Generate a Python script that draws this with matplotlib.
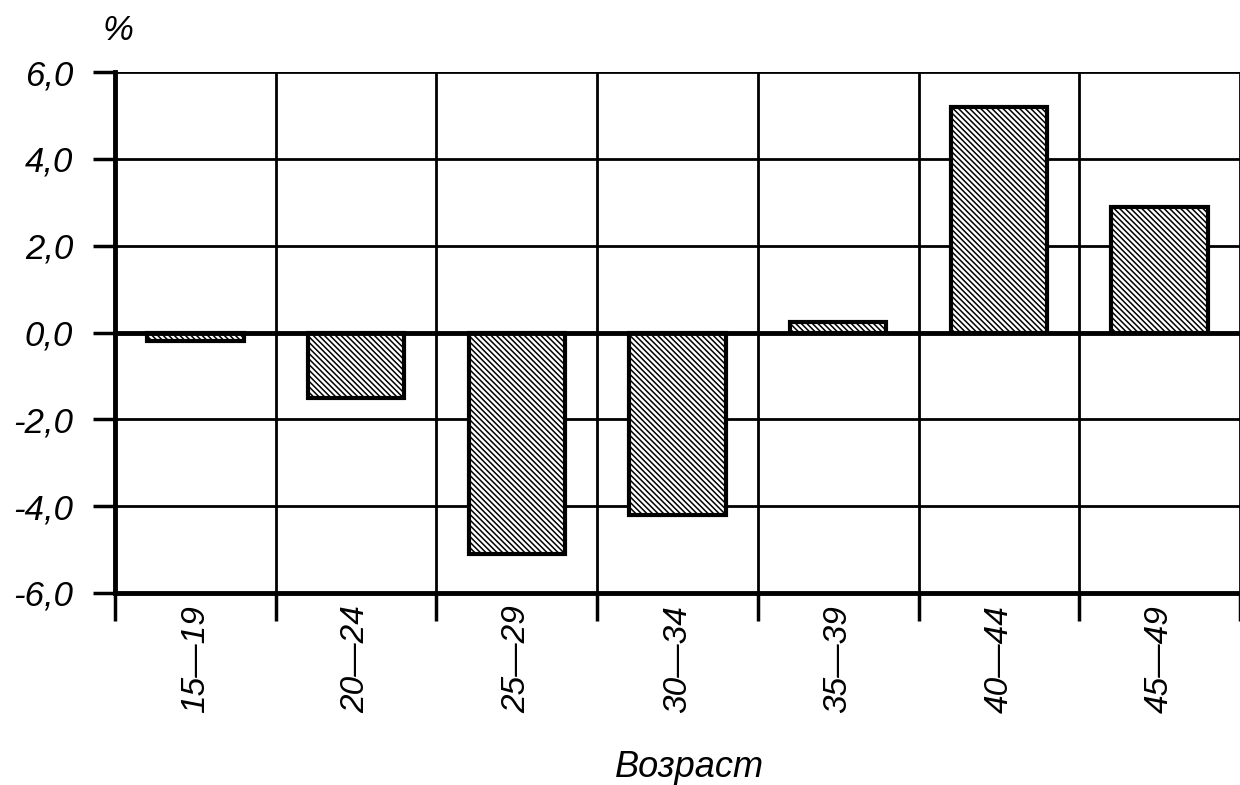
import matplotlib
matplotlib.use("Agg")
import matplotlib.pyplot as plt

ages = ["15—19", "20—24", "25—29", "30—34", "35—39", "40—44", "45—49"]
change = [-0.2, -1.5, -5.1, -4.2, 0.25, 5.2, 2.9]
yticks = [-6.0, -4.0, -2.0, 0.0, 2.0, 4.0, 6.0]

plt.rcParams['font.family'] = ['Liberation Sans', 'DejaVu Sans']
plt.rcParams['hatch.linewidth'] = 1.1

fig = plt.figure(figsize=(12.4, 7.85), dpi=100)
ax = fig.add_axes([115 / 1240, 1 - 593 / 785, 1125 / 1240, 521 / 785])

x = list(range(len(ages)))
ax.bar(x, change, width=0.6, facecolor="white", edgecolor="black",
       linewidth=3, hatch="\\" * 6, zorder=3)

ax.set_ylim(-6, 6)
ax.set_xlim(-0.5, 6.5 - 9 / 162)
ax.set_yticks(yticks)
ax.set_yticklabels([f"{v:.1f}".replace(".", ",") for v in yticks],
                   fontsize=25, style="italic")

# ticks at category boundaries, labels at centres
bounds = [i - 0.5 for i in range(len(ages) + 1)]
ax.set_xticks(bounds)
ax.set_xticklabels([])
ax.set_xticks(x, minor=True)
ax.set_xticklabels(ages, minor=True, rotation=90, fontsize=24, style="italic")
ax.tick_params(axis="x", which="minor", length=0, pad=9)
ax.tick_params(axis="x", which="major", length=20, width=2.5, direction="out")
ax.tick_params(axis="y", length=16, width=2.5, direction="out", pad=14)

ax.grid(True, which="major", color="black", linewidth=2, zorder=0)
ax.axhline(0, color="black", linewidth=3.5, zorder=4)

for side in ["left", "bottom"]:
    ax.spines[side].set_linewidth(3.5)
for side in ["top", "right"]:
    ax.spines[side].set_visible(False)

fig.text(118 / 1240, 1 - 30 / 785, "%", fontsize=25, style="italic",
         ha="center", va="center")
ax.set_xlabel("Возраст", fontsize=26, style="italic")
ax.xaxis.set_label_coords((689 - 115) / 1125, (593 - 750) / 521)

fig.savefig("out.png", dpi=100)
